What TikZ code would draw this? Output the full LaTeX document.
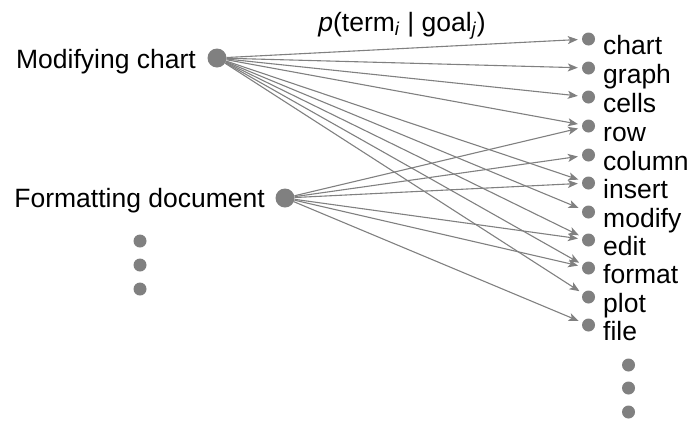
\documentclass[tikz,border=0pt]{standalone}
\usepackage{fontspec}
\setmainfont{Liberation Sans}
\usetikzlibrary{arrows.meta}
\definecolor{dotgray}{HTML}{808080}
\begin{document}
\begin{tikzpicture}[x=1pt,y=1pt,
  dot/.style={circle,fill=dotgray,draw=none,inner sep=0pt,minimum size=13pt},
  bigdot/.style={dot,minimum size=19pt},
  lbl/.style={inner sep=0pt,font=\fontsize{26.5}{30}\selectfont},
  arr/.style={draw=dotgray,line width=1.1pt,-{Stealth[length=10pt,width=8pt,inset=2.5pt]},shorten >=4pt}]
\useasboundingbox (0,0) rectangle (693,-421);
% left goal nodes
\node[bigdot] (mc) at (217,-58) {};
\node[lbl,anchor=base east] (mct) at (196,-68) {Modifying chart};
\node[bigdot] (fd) at (285,-198) {};
\node[lbl,anchor=base east] (fdt) at (265,-207) {Formatting document};
\node[dot] (l1) at (140,-241) {};
\node[dot] (l2) at (140,-265) {};
\node[dot] (l3) at (140,-289) {};
% right term nodes
\foreach \n/\y in {chart/39,graph/68,cells/97,row/126,column/155,insert/183,modify/212,edit/240,format/268,plot/297,file/325}{
  \node[dot] (\n) at (588.5,-\y) {};
  \node[lbl,anchor=base west] (\n t) at (603,-\y-15) {\n};
}
\node[dot] (r1) at (628.5,-365) {};
\node[dot] (r2) at (628.5,-388) {};
\node[dot] (r3) at (628.5,-412) {};
% edge label
\node[lbl,anchor=base] (plab) at (402,-31) {\textit{p}(term\textsubscript{\textit{i}} | goal\textsubscript{\textit{j}})};
% edges
\foreach \t in {chart,graph,cells,row,insert,modify,edit,format,plot}{
  \draw[arr] (mc) -- (\t);
}
\foreach \t in {row,column,insert,edit,format,file}{
  \draw[arr] (fd) -- (\t);
}
\end{tikzpicture}
\end{document}
